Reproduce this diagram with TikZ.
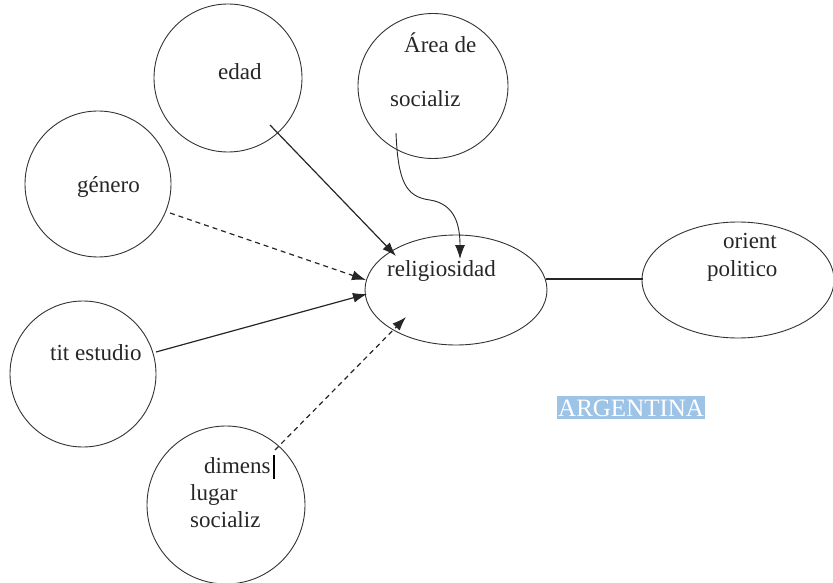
\documentclass[tikz,border=0pt]{standalone}
\usepackage{fontspec}
\setmainfont{Liberation Serif}
\usetikzlibrary{arrows.meta,shapes.geometric}
\begin{document}
\begin{tikzpicture}[x=1pt,y=-1pt,
  circ/.style={draw=black!80,line width=0.9pt,circle,inner sep=0pt},
  ell/.style={draw=black!80,line width=0.9pt,ellipse,inner sep=0pt},
  lbl/.style={font=\fontsize{23}{27}\selectfont,text=black!85,inner sep=0pt,anchor=base west},
  conn/.style={line width=1.2pt,black!85,-{Latex[length=14pt,width=10pt]}},
  dconn/.style={conn,dash pattern=on 5pt off 4pt}]
\useasboundingbox (0,0) rectangle (833,583);
% shapes
\node[circ,minimum size=148pt] (edad) at (228,78) {};
\node[ell,minimum width=150pt,minimum height=145pt] (area) at (433,86) {};
\node[circ,minimum size=146pt] (genero) at (98,184) {};
\node[circ,minimum size=146pt] (tit) at (83,374) {};
\node[circ,minimum size=158pt] (dim) at (226,505) {};
\node[ell,minimum width=182pt,minimum height=110pt] (rel) at (456,290) {};
\node[ell,minimum width=192pt,minimum height=116pt] (ori) at (738,280) {};
% labels
\node[lbl] (tedad) at (218,80) {edad};
\node[lbl] (tarea1) at (404,53) {Área de};
\node[lbl] (tarea2) at (390,107) {socializ};
\node[lbl] (tgen) at (77,193) {género};
\node[lbl] (ttit) at (50,360) {tit estudio};
\node[lbl] (tdim1) at (204,473) {dimens};
\node[lbl] (tdim2) at (190,500) {lugar};
\node[lbl] (tdim3) at (190,527) {socializ};
\node[lbl] (trel) at (387,276) {religiosidad};
\node[lbl] (tori1) at (723,248) {orient};
\node[lbl] (tori2) at (707,276) {politico};
\node[lbl,font=\fontsize{25}{29}\selectfont,fill={rgb,255:red,157;green,195;blue,230},text=white,inner xsep=1pt,inner ysep=3pt] (arg) at (557,416) {ARGENTINA};
% cursor mark
\coordinate (c1) at (274,455);
\coordinate (c2) at (274,479);
\draw[line width=1.6pt,black] (c1) -- (c2);
% connector endpoints
\coordinate (s1) at (270,125);
\coordinate (e1) at (396,256);
\coordinate (s2) at (170,213);
\coordinate (e2) at (366,280);
\coordinate (s3) at (156,352);
\coordinate (e3) at (367,294);
\coordinate (s4) at (275,450);
\coordinate (e4) at (406,317);
\coordinate (s5) at (396,133);
\coordinate (m5) at (430,200);
\coordinate (e5) at (460,259);
\coordinate (s6) at (546,279);
\coordinate (e6) at (643,279);
\draw[conn] (s1) -- (e1);
\draw[dconn] (s2) -- (e2);
\draw[conn] (s3) -- (e3);
\draw[dconn] (s4) -- (e4);
\draw[conn,line width=0.9pt] (s5) .. controls (398,180) and (405,197) .. (m5) .. controls (455,204) and (460,225) .. (e5);
\draw[line width=1.2pt,black!85] (s6) -- (e6);
\end{tikzpicture}
\end{document}
